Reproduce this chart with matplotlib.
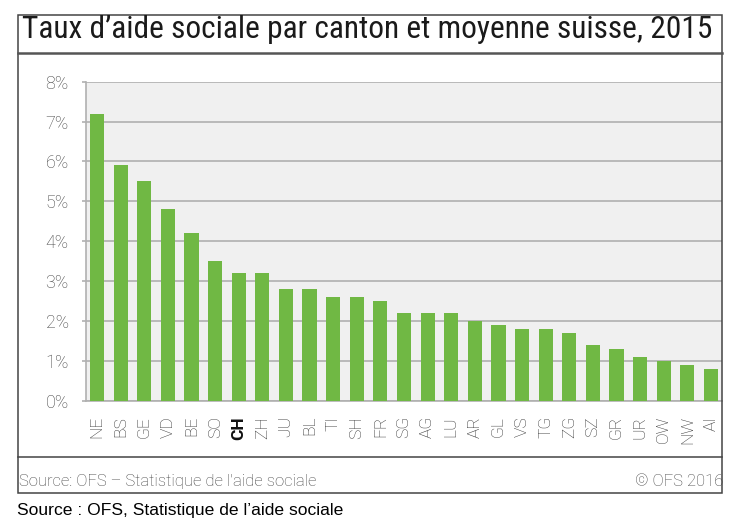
import matplotlib
matplotlib.use("Agg")
import matplotlib.pyplot as plt
from matplotlib.patches import Rectangle
from matplotlib.lines import Line2D
from matplotlib.ticker import FuncFormatter
from matplotlib import font_manager

cantons = ["NE", "BS", "GE", "VD", "BE", "SO", "CH", "ZH", "JU", "BL", "TI", "SH", "FR",
           "SG", "AG", "LU", "AR", "GL", "VS", "TG", "ZG", "SZ", "GR", "UR", "OW", "NW", "AI"]
rates = [7.2, 5.9, 5.5, 4.8, 4.2, 3.5, 3.2, 3.2, 2.8, 2.8, 2.6, 2.6, 2.5,
         2.2, 2.2, 2.2, 2.0, 1.9, 1.8, 1.8, 1.7, 1.4, 1.3, 1.1, 1.0, 0.9, 0.8]
y_ticks = [0, 1, 2, 3, 4, 5, 6, 7, 8]

title = "Taux d’aide sociale par canton et moyenne suisse, 2015"
footer_left = "Source: OFS – Statistique de l'aide sociale"
footer_right = "© OFS 2016"
caption = "Source : OFS, Statistique de l’aide sociale"

available = {f.name for f in font_manager.fontManager.ttflist}
title_font = "Roboto"
for cand in ["Roboto Condensed", "Liberation Sans Narrow", "Open Sans Condensed", "Noto Sans Condensed"]:
    if cand in available:
        title_font = cand
        break

W, H = 743, 528
fig = plt.figure(figsize=(W / 100, H / 100), dpi=100)

def fx(x):
    return x / W

def fy(y):
    return 1 - y / H

GREEN = "#70b844"
GRID = "#b0b0b0"

ax = fig.add_axes([fx(86), fy(400.7), fx(722) - fx(86), fy(81.7) - fy(400.7)])
ax.set_facecolor("#f0f0f0")
x = list(range(len(cantons)))
ax.bar(x, rates, width=0.6, color=GREEN, zorder=3)
ax.set_xlim(-0.47, len(cantons) - 0.53)
ax.set_ylim(0, 8)
ax.set_yticks(y_ticks)
ax.yaxis.set_major_formatter(FuncFormatter(lambda v, p: f"{v:.0f}%"))
ax.grid(axis="y", color=GRID, linewidth=1.2, zorder=1)
for s in ["top", "right"]:
    ax.spines[s].set_visible(False)
for s in ["left", "bottom"]:
    ax.spines[s].set_color(GRID)
    ax.spines[s].set_linewidth(1.2)
ax.tick_params(axis="y", length=3, width=1.2, color=GRID, pad=9.5,
               labelsize=13, labelcolor="#444444")
for lab in ax.get_yticklabels():
    lab.set_fontfamily("Roboto")
    lab.set_fontweight("light")
ax.set_xticks(x)
ax.set_xticklabels(cantons, rotation=90, fontsize=12.5, fontfamily="Roboto",
                   fontweight="light", color="#333333")
ax.tick_params(axis="x", length=0, pad=11)
for lab in ax.get_xticklabels():
    if lab.get_text() == "CH":
        lab.set_fontweight("bold")
        lab.set_color("#111111")

# frame
fig.add_artist(Rectangle((fx(18.3), fy(492.7)), fx(722) - fx(18.3), fy(15) - fy(492.7),
                         fill=False, edgecolor="#444444", linewidth=1.1, transform=fig.transFigure))
fig.add_artist(Line2D([fx(18.3), fx(722)], [fy(53), fy(53)], color="#555555",
                      linewidth=1.8, transform=fig.transFigure))
fig.add_artist(Line2D([fx(18.3), fx(722)], [fy(457), fy(457)], color="#444444",
                      linewidth=1.1, transform=fig.transFigure))

t = fig.text(fx(21.5), fy(37.5), title, fontsize=17.5, fontfamily=title_font,
             fontweight="normal", color="#1a1a1a", ha="left", va="baseline")
fig.canvas.draw()
bb = t.get_window_extent()
target = 690
t.set_fontsize(17.5 * target / bb.width)

fig.text(fx(19), fy(486), footer_left, fontsize=12, fontfamily="Roboto",
         fontweight="light", color="#444444", ha="left", va="baseline")
fig.text(fx(723), fy(486), footer_right, fontsize=12, fontfamily="Roboto",
         fontweight="light", color="#444444", ha="right", va="baseline")
fig.text(fx(17), fy(515), caption, fontsize=12.6, fontfamily="Liberation Sans",
         color="#000000", ha="left", va="baseline")

fig.savefig("out.png", dpi=100)
